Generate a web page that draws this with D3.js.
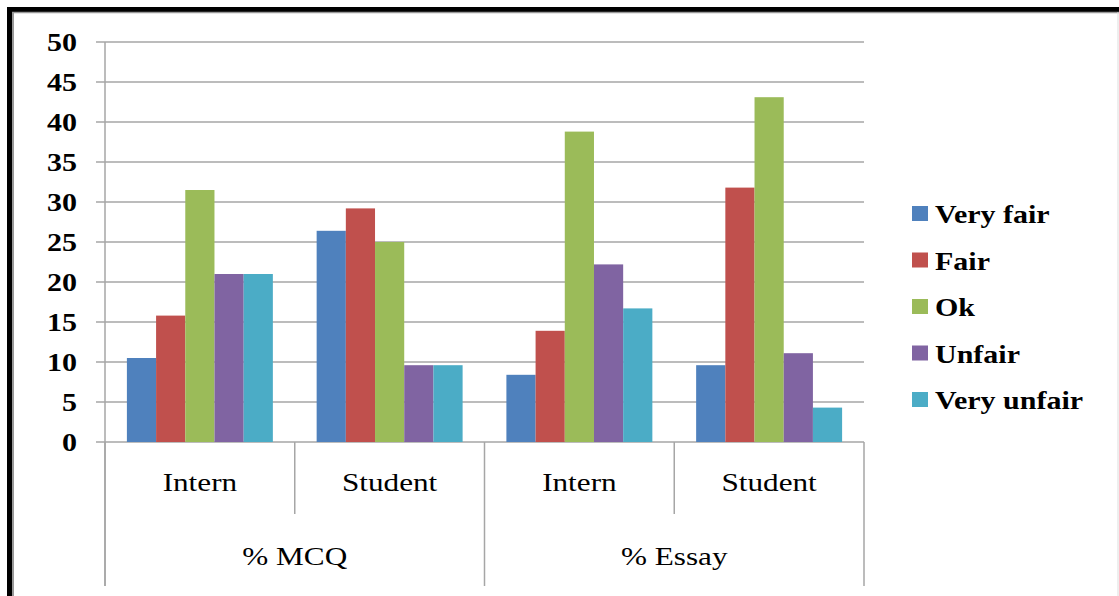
<!DOCTYPE html>
<html>
<head>
<meta charset="utf-8">
<script src="https://cdn.jsdelivr.net/npm/d3@7"></script>
<style>
  body { margin: 0; background: #fff; }
</style>
</head>
<body>
<div id="chart"></div>
<script>
// series names and colours
const seriesNames = ["Very fair", "Fair", "Ok", "Unfair", "Very unfair"];
const seriesColors = ["#4F81BD", "#C0504D", "#9BBB59", "#8064A2", "#4BACC6"];

// x categories: two levels
const subCategories = ["Intern", "Student", "Intern", "Student"];
const groupLabels = ["% MCQ", "% Essay"];

// values for each series, one per sub category
const veryFair = [10.5, 26.4, 8.4, 9.6];
const fair = [15.8, 29.2, 13.9, 31.8];
const ok = [31.5, 25.0, 38.8, 43.1];
const unfair = [21.0, 9.6, 22.2, 11.1];
const veryUnfair = [21.0, 9.6, 16.7, 4.3];

const yTicks = [0, 5, 10, 15, 20, 25, 30, 35, 40, 45, 50];

const W = 1119, H = 596;
const margin = {top: 42, left: 105, right: 255, bottom: 154};
const plotW = W - margin.left - margin.right;
const plotH = H - margin.top - margin.bottom;
const sx = 1.2; // text in the picture is stretched sideways
const serif = "'Liberation Serif', 'DejaVu Serif', serif";

let svg = d3.select("#chart").append("svg")
    .attr("width", W)
    .attr("height", H)
    .attr("font-family", serif);

// frame round the picture
svg.append("rect").attr("x", 9.5).attr("y", 9.5).attr("width", W + 20).attr("height", H + 20)
    .attr("fill", "none").attr("stroke", "#000").attr("stroke-width", 5);
svg.append("line").attr("x1", 13).attr("x2", 13).attr("y1", 12).attr("y2", H)
    .attr("stroke", "#999").attr("stroke-width", 2);
svg.append("line").attr("x1", 12).attr("x2", W).attr("y1", 12.5).attr("y2", 12.5)
    .attr("stroke", "#999").attr("stroke-width", 1.5);
svg.append("line").attr("x1", W - 1).attr("x2", W - 1).attr("y1", 12).attr("y2", H)
    .attr("stroke", "#ddd").attr("stroke-width", 1);

let g = svg.append("g").attr("transform", `translate(${margin.left},${margin.top})`);

let y = d3.scaleLinear().domain([0, 50]).range([plotH, 0]);
let x0 = d3.scaleBand().domain(d3.range(subCategories.length)).range([0, plotW]);
let x1 = d3.scaleBand().domain(seriesNames).range([0, x0.bandwidth()])
    .paddingInner(0).paddingOuter(0.75);

// gridlines
g.selectAll("line.grid").data(yTicks).enter().append("line")
    .attr("class", "grid")
    .attr("x1", -9).attr("x2", plotW)
    .attr("y1", d => y(d)).attr("y2", d => y(d))
    .attr("stroke", "#a6a6a6").attr("stroke-width", 1.5);

// y tick labels
g.selectAll("text.ylab").data(yTicks).enter().append("text")
    .attr("class", "ylab")
    .attr("transform", d => `translate(-28,${y(d)}) scale(${sx},1)`)
    .attr("text-anchor", "end")
    .attr("dy", "0.35em")
    .attr("font-family", serif)
    .attr("font-size", 25)
    .attr("font-weight", "bold")
    .text(d => d);

// bars
let seriesValues = [veryFair, fair, ok, unfair, veryUnfair];
let barData = [];
seriesNames.forEach((s, i) => {
    seriesValues[i].forEach((v, c) => barData.push({series: s, color: seriesColors[i], cat: c, value: v}));
});

g.selectAll("rect.bar").data(barData).enter().append("rect")
    .attr("class", "bar")
    .attr("x", d => x0(d.cat) + x1(d.series))
    .attr("width", x1.bandwidth())
    .attr("y", d => y(d.value))
    .attr("height", d => plotH - y(d.value))
    .attr("fill", d => d.color);

// axis line
g.append("line").attr("x1", 0).attr("x2", 0).attr("y1", 0).attr("y2", H - margin.top - 10)
    .attr("stroke", "#a6a6a6").attr("stroke-width", 1.5);

// category dividers
let bounds = d3.range(subCategories.length + 1);
g.selectAll("line.div").data(bounds).enter().append("line")
    .attr("class", "div")
    .attr("x1", d => d * x0.step()).attr("x2", d => d * x0.step())
    .attr("y1", plotH)
    .attr("y2", d => d % 2 === 0 ? H - margin.top - 10 : plotH + 72)
    .attr("stroke", "#a6a6a6").attr("stroke-width", 1.5);

// sub category labels
g.selectAll("text.sub").data(subCategories).enter().append("text")
    .attr("class", "sub")
    .attr("transform", (d, i) => `translate(${x0(i) + x0.bandwidth() / 2},${plotH + 49}) scale(${sx},1)`)
    .attr("text-anchor", "middle")
    .attr("font-family", serif)
    .attr("font-size", 26)
    .text(d => d);

// group labels
g.selectAll("text.grp").data(groupLabels).enter().append("text")
    .attr("class", "grp")
    .attr("transform", (d, i) => `translate(${x0(i * 2 + 1)},${plotH + 123}) scale(${sx},1)`)
    .attr("text-anchor", "middle")
    .attr("font-family", serif)
    .attr("font-size", 26)
    .text(d => d);

// legend
let legend = svg.append("g").attr("transform", "translate(912,214)");
let rows = legend.selectAll("g").data(seriesNames).enter().append("g")
    .attr("transform", (d, i) => `translate(0,${i * 46.5})`);
rows.append("rect")
    .attr("x", 0).attr("y", -8).attr("width", 16).attr("height", 15)
    .attr("fill", (d, i) => seriesColors[i]);
rows.append("text")
    .attr("transform", `translate(23,9) scale(${sx},1)`)
    .attr("font-family", serif)
    .attr("font-size", 25)
    .attr("font-weight", "bold")
    .text(d => d);
</script>
</body>
</html>
